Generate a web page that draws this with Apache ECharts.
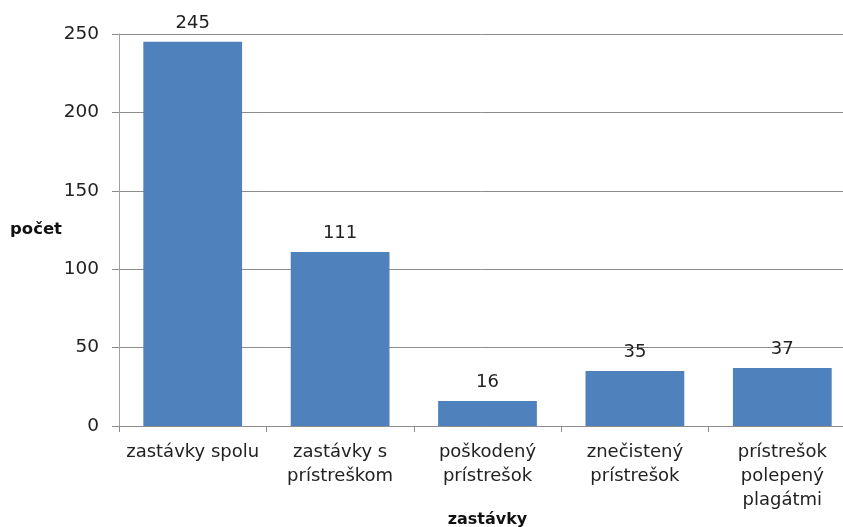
<!DOCTYPE html>
<html><head><meta charset="utf-8">
<script src="https://cdn.jsdelivr.net/npm/echarts@6/dist/echarts.min.js"></script>
<style>html,body{margin:0;padding:0;background:#fff}#c{width:843px;height:527px}</style>
</head><body><div id="c"></div>
<script>
const categories = ['zastávky spolu', 'zastávky s\nprístreškom', 'poškodený\nprístrešok', 'znečistený\nprístrešok', 'prístrešok\npolepený\nplagátmi'];
const values = [245, 111, 16, 35, 37];
const yTicks = { min: 0, max: 250, interval: 50 };

const chart = echarts.init(document.getElementById('c'));
chart.setOption({
  animation: false,
  grid: { left: 119, top: 34, bottom: 101, right: -13, containLabel: false, outerBoundsMode: 'none' },
  xAxis: {
    type: 'category', data: categories,
    name: 'zastávky', nameLocation: 'middle', nameGap: 86, nameMoveOverlap: false,
    nameTextStyle: { fontFamily: 'DejaVu Sans', fontWeight: 'bold', fontSize: 16, color: '#111' },
    axisLine: { lineStyle: { color: '#8c8c8c', width: 1 } },
    axisTick: { show: true, length: 6, lineStyle: { color: '#8c8c8c' } },
    axisLabel: { fontFamily: 'DejaVu Sans', fontSize: 18, color: '#222', margin: 14, lineHeight: 24, interval: 0 }
  },
  yAxis: {
    type: 'value', min: yTicks.min, max: yTicks.max, interval: yTicks.interval,
    name: 'počet', nameLocation: 'middle', nameRotate: 0, nameGap: 57, nameMoveOverlap: false,
    nameTextStyle: { fontFamily: 'DejaVu Sans', fontWeight: 'bold', fontSize: 16.5, color: '#111', padding: [8, 0, 0, 0] },
    axisLine: { show: true, lineStyle: { color: '#a0a0a0', width: 1 } },
    axisTick: { show: true, length: 7, lineStyle: { color: '#8c8c8c' } },
    axisLabel: { fontFamily: 'DejaVu Sans', fontSize: 18.5, color: '#222', margin: 20 },
    splitLine: { lineStyle: { color: '#8c8c8c', width: 1 } }
  },
  series: [{
    type: 'bar', data: values, barCategoryGap: '33%',
    itemStyle: { color: '#4F81BD' },
    label: { show: true, position: 'top', distance: 10, fontFamily: 'DejaVu Sans', fontSize: 18, color: '#222' }
  }]
});
</script></body></html>
